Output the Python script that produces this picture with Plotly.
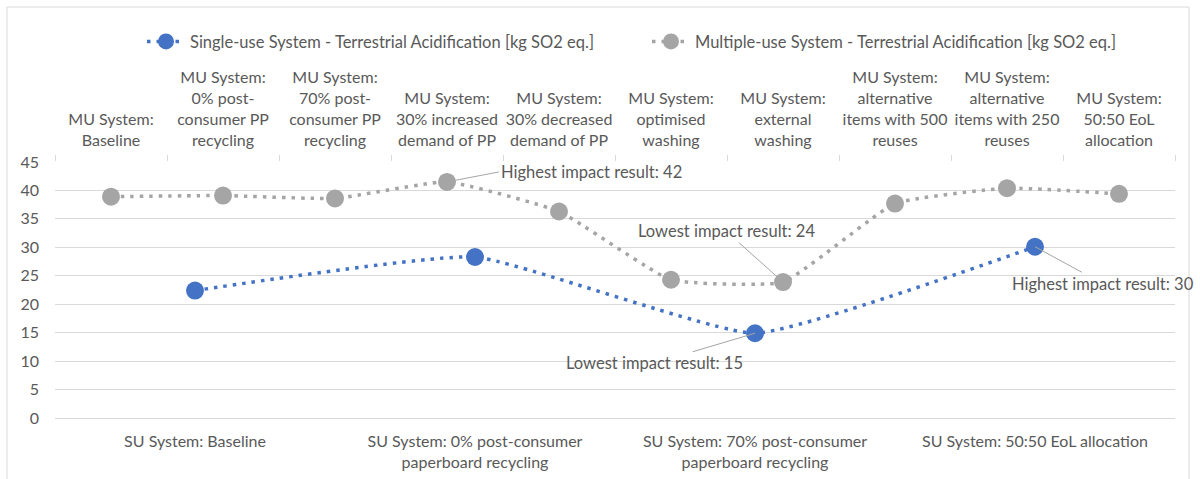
import plotly.graph_objects as go

# ---------------- data ----------------
su_categories = [
    "SU System: Baseline",
    "SU System: 0% post-consumer paperboard recycling",
    "SU System: 70% post-consumer paperboard recycling",
    "SU System: 50:50 EoL allocation",
]
su_ticklabels = [
    "SU System: Baseline",
    "SU System: 0% post-consumer<br>paperboard recycling",
    "SU System: 70% post-consumer<br>paperboard recycling",
    "SU System: 50:50 EoL allocation",
]
su_values = [22.4, 28.3, 14.9, 30.1]

mu_categories = [
    "MU System: Baseline",
    "MU System: 0% post-consumer PP recycling",
    "MU System: 70% post-consumer PP recycling",
    "MU System: 30% increased demand of PP",
    "MU System: 30% decreased demand of PP",
    "MU System: optimised washing",
    "MU System: external washing",
    "MU System: alternative items with 500 reuses",
    "MU System: alternative items with 250 reuses",
    "MU System: 50:50 EoL allocation",
]
mu_ticklabels = [
    "MU System:<br>Baseline",
    "MU System:<br>0% post-<br>consumer PP<br>recycling",
    "MU System:<br>70% post-<br>consumer PP<br>recycling",
    "MU System:<br>30% increased<br>demand of PP",
    "MU System:<br>30% decreased<br>demand of PP",
    "MU System:<br>optimised<br>washing",
    "MU System:<br>external<br>washing",
    "MU System:<br>alternative<br>items with 500<br>reuses",
    "MU System:<br>alternative<br>items with 250<br>reuses",
    "MU System:<br>50:50 EoL<br>allocation",
]
mu_values = [38.9, 39.1, 38.6, 41.5, 36.3, 24.3, 23.9, 37.7, 40.4, 39.4]

y_ticks = [0, 5, 10, 15, 20, 25, 30, 35, 40, 45]

su_name = "Single-use System - Terrestrial Acidification [kg SO2 eq.]"
mu_name = "Multiple-use System - Terrestrial Acidification [kg SO2 eq.]"

BLUE = "#4472C4"
GRAY = "#A5A5A5"
TXT = "#595959"
GRID = "#D9D9D9"
FONT = "Lato, Carlito, Calibri, sans-serif"
DASH = "3.5px,6px"

fig = go.Figure()
fig.add_trace(go.Scatter(
    x=su_categories, y=su_values, name=su_name, xaxis="x", yaxis="y",
    mode="lines+markers",
    line=dict(color=BLUE, width=3.5, dash=DASH, shape="spline", smoothing=0.4),
    marker=dict(color=BLUE, size=18),
))
fig.add_trace(go.Scatter(
    x=mu_categories, y=mu_values, name=mu_name, xaxis="x2", yaxis="y",
    mode="lines+markers",
    line=dict(color=GRAY, width=3.5, dash=DASH, shape="spline", smoothing=0.4),
    marker=dict(color=GRAY, size=18),
))

ann_style = dict(showarrow=True, arrowhead=0, arrowwidth=1, arrowcolor=GRAY,
                 font=dict(family=FONT, size=16.5, color=TXT), yref="y",
                 axref="pixel", ayref="pixel")
annotations = [
    dict(x=mu_categories[3], y=mu_values[3], xref="x2",
         text="Highest impact result: 42", ax=52, ay=-10, xanchor="left", **ann_style),
    dict(x=mu_categories[6], y=mu_values[6], xref="x2",
         text="Lowest impact result: 24", ax=-57, ay=-51, **ann_style),
    dict(x=su_categories[2], y=su_values[2], xref="x",
         text="Lowest impact result: 15", ax=-101, ay=30, **ann_style),
    dict(x=su_categories[3], y=su_values[3], xref="x",
         text="Highest impact result: 30", ax=68, ay=37, **ann_style),
]

fig.update_layout(
    width=1200, height=479,
    margin=dict(l=55, r=25, t=162, b=61, autoexpand=False),
    paper_bgcolor="white", plot_bgcolor="white",
    font=dict(family=FONT, size=16, color=TXT),
    showlegend=True,
    legend=dict(orientation="h", x=(142 - 55) / 1120, xanchor="left",
                y=1.47, yanchor="middle",
                font=dict(family=FONT, size=16.5, color=TXT),
                itemwidth=38, entrywidth=452, entrywidthmode="pixels",
                bgcolor="rgba(0,0,0,0)"),
    xaxis=dict(type="category", categoryorder="array", categoryarray=su_categories,
               tickvals=su_categories, ticktext=su_ticklabels,
               range=[-0.5, 3.5], showgrid=False, zeroline=False, automargin=False,
               showline=False, ticks="", ticklabelstandoff=12, tickangle=0,
               tickfont=dict(family=FONT, size=16, color=TXT)),
    xaxis2=dict(type="category", categoryorder="array", categoryarray=mu_categories,
                tickvals=mu_categories, ticktext=mu_ticklabels,
                overlaying="x", side="top", anchor="y", automargin=False,
                range=[-0.5, 9.5], showgrid=False, zeroline=False,
                showline=False, ticks="outside", tickson="boundaries",
                ticklen=6, tickcolor=GRID, tickwidth=1, ticklabelstandoff=12,
                tickangle=0,
                tickfont=dict(family=FONT, size=16, color=TXT)),
    yaxis=dict(range=[0, 45], tickvals=y_ticks, showgrid=True, gridcolor=GRID,
               gridwidth=1, zeroline=True, zerolinecolor=GRID, zerolinewidth=1,
               showline=False, ticks="", ticklabelstandoff=15, automargin=False,
               tickfont=dict(family=FONT, size=16, color=TXT)),
    annotations=annotations,
    shapes=[dict(type="rect", xref="paper", yref="paper",
                 x0=(7 - 55) / 1120, x1=(1189 - 55) / 1120,
                 y0=(418 - 490) / 256, y1=(418 - 7) / 256,
                 line=dict(color=GRID, width=1), fillcolor="rgba(0,0,0,0)",
                 layer="below")],
)

fig.write_html("out.html", config={"displayModeBar": False},
               post_script="document.body.style.margin='0';")
